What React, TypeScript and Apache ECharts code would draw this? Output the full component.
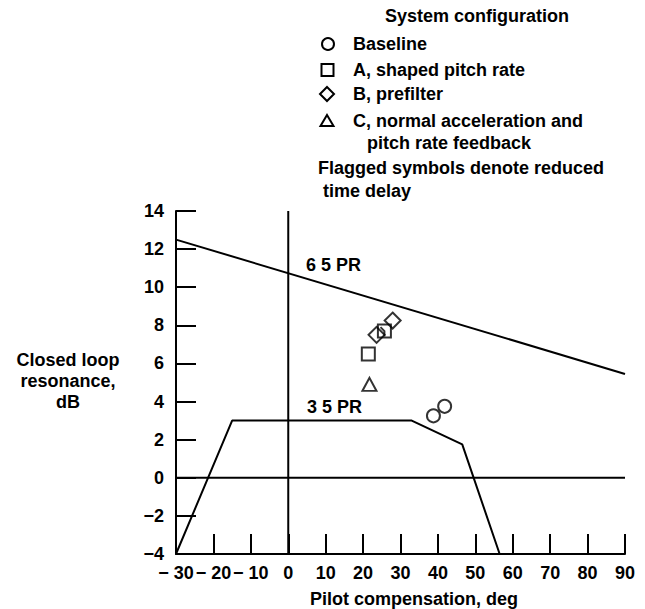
import React, { useEffect, useRef } from "react";
import * as echarts from "echarts";

// ---- data ----
const xMin = -30;
const xMax = 90;
const xStep = 10;
const yMin = -4;
const yMax = 14;
const yStep = 2;

const pr65Line = [[-30, 12.5], [90, 5.45]];
const pr35Line = [[-30, -4], [-15, 3], [33, 3], [46.5, 1.75], [56.5, -4]];
const zeroResonanceLine = [[-30, 0], [90, 0]];
const zeroCompensationLine = [[0, -4], [0, 14]];

const baseline = [[38.8, 3.25], [41.8, 3.75]];
const configA = [[21.4, 6.5]];
const configAFlagged = [[25.7, 7.7]];
const configB = [[23.6, 7.5], [27.9, 8.25]];
const configC = [[21.7, 4.9]];

const legendTitle = "System configuration";
const legendLabels = ["Baseline", "A, shaped pitch rate", "B, prefilter", "C, normal acceleration and"];
const legendContinuation = "pitch rate feedback";
const noteLines = ["Flagged symbols denote reduced", "time delay"];
const yTitleLines = ["Closed loop", "resonance,", "dB"];
const xTitle = "Pilot compensation, deg";
const pr65Label = "6 5 PR";
const pr35Label = "3 5 PR";

const FONT = '"Liberation Sans", Arial, Helvetica, sans-serif';
const FS = 18;

function fmtX(v: number) {
  return v < 0 ? "\u2212 " + Math.abs(v) : String(v);
}

export default function App() {
  const ref = useRef<HTMLDivElement>(null);
  useEffect(() => {
    if (!ref.current) return;
    const chart = echarts.init(ref.current, null, { renderer: "svg" });
    const black = "#000";
    const lineSeries = (data: number[][], w = 2) => ({
      type: "line",
      data,
      symbol: "none",
      lineStyle: { color: black, width: w },
      silent: true,
      z: 2,
    });
    const hollow = { color: "rgba(0,0,0,0)", borderColor: black, borderWidth: 2 };
    const txt = (text: string, x: number, y: number, align = "left") => ({
      type: "text",
      style: {
        text,
        x,
        y,
        align,
        verticalAlign: "middle",
        fill: black,
        fontFamily: FONT,
        fontWeight: "bold",
        fontSize: FS,
      },
    });
    const stroke = { fill: "none", stroke: black, lineWidth: 2 };

    const option: any = {
      animation: false,
      backgroundColor: "#fff",
      grid: { left: 176, right: 20, top: 211, bottom: 55, containLabel: false },
      xAxis: {
        type: "value",
        min: xMin,
        max: xMax,
        interval: xStep,
        axisLine: { show: true, onZero: false, lineStyle: { color: black, width: 2 } },
        axisTick: { show: true, inside: true, length: 20, lineStyle: { color: black, width: 2 } },
        splitLine: { show: false },
        axisLabel: {
          color: black,
          fontFamily: FONT,
          fontWeight: "bold",
          fontSize: FS,
          margin: 10,
          formatter: (v: number) => fmtX(v),
        },
      },
      yAxis: {
        type: "value",
        min: yMin,
        max: yMax,
        interval: yStep,
        axisLine: { show: true, onZero: false, lineStyle: { color: black, width: 2 } },
        axisTick: { show: true, inside: true, length: 20, lineStyle: { color: black, width: 2 } },
        splitLine: { show: false },
        axisLabel: {
          color: black,
          fontFamily: FONT,
          fontWeight: "bold",
          fontSize: FS,
          margin: 12,
          formatter: (v: number) => (v < 0 ? "\u2212" + Math.abs(v) : String(v)),
        },
      },
      series: [
        lineSeries(zeroResonanceLine),
        lineSeries(zeroCompensationLine),
        lineSeries(pr65Line),
        lineSeries(pr35Line),
        { type: "scatter", data: baseline, symbol: "circle", symbolSize: 13, itemStyle: hollow, z: 3 },
        { type: "scatter", data: configA, symbol: "rect", symbolSize: 13, itemStyle: hollow, z: 3 },
        {
          type: "scatter",
          data: configAFlagged,
          symbol: "path://M0,0 L10,0 L10,10 L0,10 Z M2,2 L5,5 L5,9",
          symbolSize: 13,
          itemStyle: hollow,
          z: 3,
        },
        { type: "scatter", data: configB, symbol: "diamond", symbolSize: 16, itemStyle: hollow, z: 3 },
        { type: "scatter", data: configC, symbol: "triangle", symbolSize: [14, 13], itemStyle: hollow, z: 3 },
      ],
      graphic: [
        txt(legendTitle, 477, 16, "center"),
        { type: "circle", shape: { cx: 328, cy: 44, r: 6 }, style: stroke },
        { type: "rect", shape: { x: 321.5, y: 64, width: 12, height: 12 }, style: stroke },
        { type: "polygon", shape: { points: [[327, 87], [334, 94], [327, 101], [320, 94]] }, style: stroke },
        { type: "polygon", shape: { points: [[327, 115], [333.5, 126], [320.5, 126]] }, style: stroke },
        txt(legendLabels[0], 353, 44),
        txt(legendLabels[1], 353, 70),
        txt(legendLabels[2], 353, 94),
        txt(legendLabels[3], 353, 121),
        txt(legendContinuation, 367, 143),
        txt(noteLines[0], 318, 168),
        txt(noteLines[1], 323, 191),
        txt(yTitleLines[0], 68, 360, "center"),
        txt(yTitleLines[1], 68, 381, "center"),
        txt(yTitleLines[2], 68, 402, "center"),
        txt(xTitle, 414, 599, "center"),
        txt(pr65Label, 306, 265),
        txt(pr35Label, 307, 407),
      ],
    };
    chart.setOption(option);
    return () => chart.dispose();
  }, []);
  return <div ref={ref} style={{ width: 645, height: 609, position: "absolute", left: 0, top: 0 }} />;
}
